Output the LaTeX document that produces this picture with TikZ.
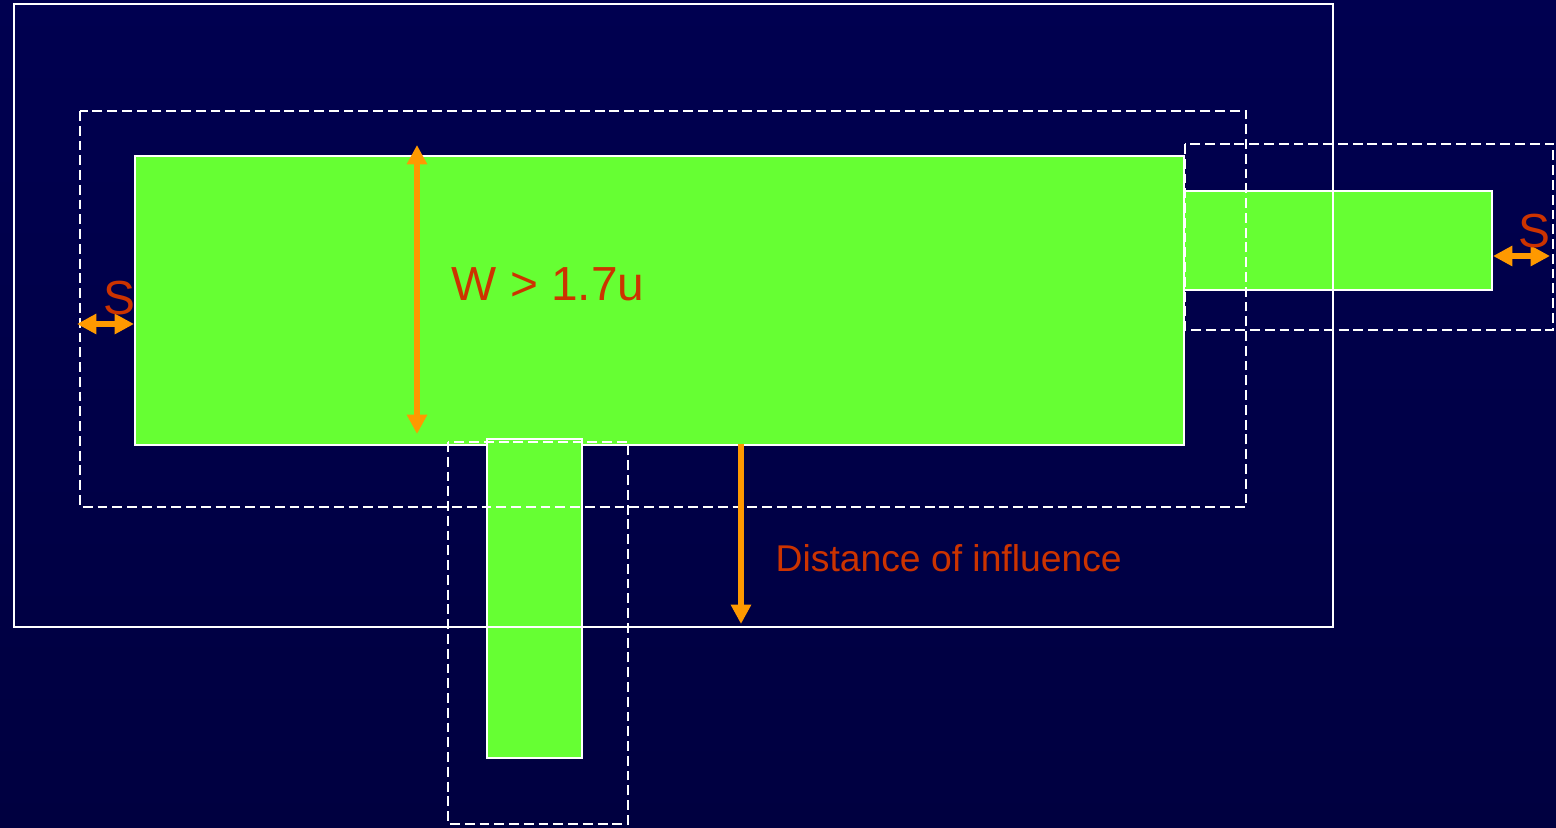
\documentclass[tikz,border=0pt]{standalone}
\usepackage{fontspec}
\setmainfont{Liberation Sans}
\usepackage{xcolor}
\usetikzlibrary{arrows.meta}
\definecolor{SlideTop}{HTML}{000050}
\definecolor{SlideMid}{HTML}{00005C}
\definecolor{SlideBot}{HTML}{000040}
\definecolor{PadGreen}{HTML}{66FF33}
\definecolor{RuleOrange}{HTML}{FF9900}
\definecolor{NoteRed}{HTML}{CC3300}

\begin{document}
\begin{tikzpicture}[
	x=0.01cm, y=-0.01cm,
	pad/.style={draw=white, line width=0.7pt, fill=PadGreen},
	bound/.style={draw=white, line width=0.7pt},
	halo/.style={draw=white, line width=0.7pt, dash pattern=on 2.8pt off 1.4pt},
	arrow/.style={-{Triangle[width=5.5pt,length=5.5pt]}, RuleOrange, line width=1.5pt},
	twoway/.style={{Triangle[width=5.5pt,length=5.5pt]}-{Triangle[width=5.5pt,length=5.5pt]}, RuleOrange, line width=1.5pt},
	note/.style={text=NoteRed, inner sep=0pt, anchor=base west}
]
% slide background
\shade[top color=SlideTop, middle color=SlideMid, bottom color=SlideBot] (0,0) rectangle (1556,828);
\useasboundingbox (0,0) rectangle (1556,828);

% metal shapes
\draw[pad] (135,156) rectangle (1184,445);
\draw[pad] (1184,191) rectangle (1492,290);
\draw[pad] (487,439) rectangle (582,758);

% influence region and spacing halos
\draw[bound] (14,4) rectangle (1333,627);
\draw[halo] (80,111) rectangle (1246,507);
\draw[halo] (1185,144) rectangle (1553,330);
\draw[halo] (448,442) rectangle (628,824);

% arrow ends
\coordinate (wtop) at (417,145);
\coordinate (wbot) at (417,434);
\coordinate (sl1) at (77,324);
\coordinate (sl2) at (134,324);
\coordinate (sr1) at (1493,256);
\coordinate (sr2) at (1550,256);
\coordinate (dtop) at (741,444);
\coordinate (dbot) at (741,624);

\draw[twoway] (wtop) -- (wbot);
\draw[twoway] (sl1) -- (sl2);
\draw[twoway] (sr1) -- (sr2);
\draw[arrow] (dtop) -- (dbot);

\node[note, font=\fontsize{13.6}{16}\selectfont] (wlabel) at (451,301) {W > 1.7u};
\node[note, font=\fontsize{13.6}{16}\selectfont] (sleft) at (103,315) {S};
\node[note, font=\fontsize{13.6}{16}\selectfont] (sright) at (1518,248) {S};
\node[note, font=\fontsize{10.6}{13}\selectfont] (dlabel) at (775,572) {Distance of influence};
\end{tikzpicture}
\end{document}
